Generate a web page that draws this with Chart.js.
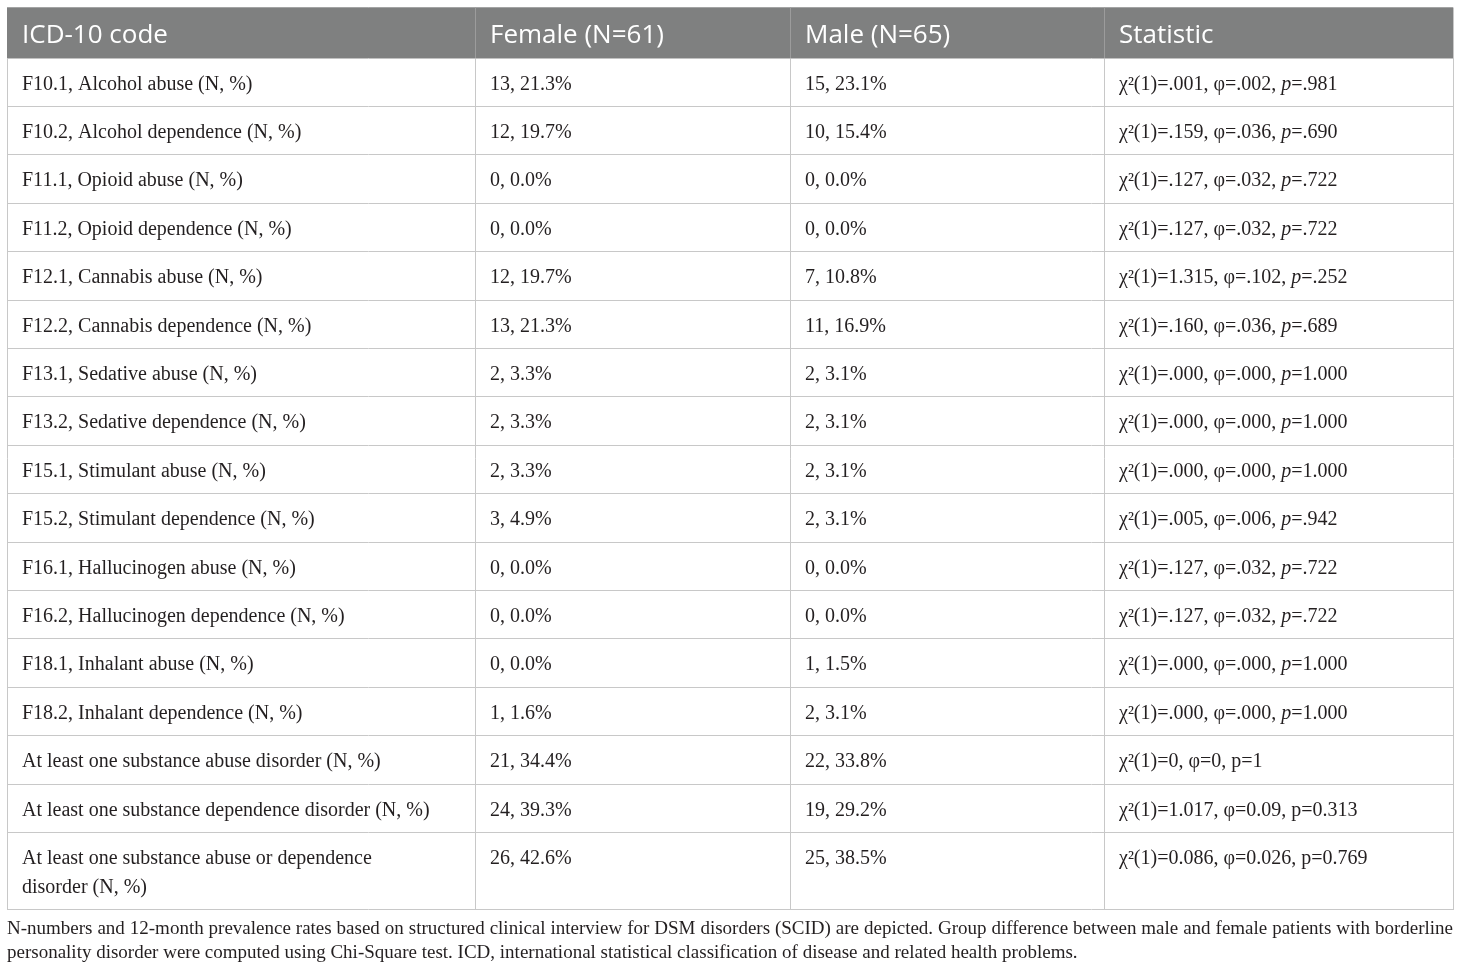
<!DOCTYPE html>
<html>
<head>
<meta charset="utf-8">
<script src="https://cdn.jsdelivr.net/npm/chart.js@4.4.1/dist/chart.umd.min.js"></script>
<style>
  html, body { margin: 0; padding: 0; background: #ffffff; }
  #wrap { width: 1460px; height: 970px; position: relative; }
</style>
</head>
<body>
<div id="wrap"><canvas id="substanceTable"></canvas></div>
<script>
// Table content
const headers = ['ICD-10 code', 'Female (N=61)', 'Male (N=65)', 'Statistic'];

const rowCodes = [
  'F10.1, Alcohol abuse (N, %)',
  'F10.2, Alcohol dependence (N, %)',
  'F11.1, Opioid abuse (N, %)',
  'F11.2, Opioid dependence (N, %)',
  'F12.1, Cannabis abuse (N, %)',
  'F12.2, Cannabis dependence (N, %)',
  'F13.1, Sedative abuse (N, %)',
  'F13.2, Sedative dependence (N, %)',
  'F15.1, Stimulant abuse (N, %)',
  'F15.2, Stimulant dependence (N, %)',
  'F16.1, Hallucinogen abuse (N, %)',
  'F16.2, Hallucinogen dependence (N, %)',
  'F18.1, Inhalant abuse (N, %)',
  'F18.2, Inhalant dependence (N, %)',
  'At least one substance abuse disorder (N, %)',
  'At least one substance dependence disorder (N, %)',
  'At least one substance abuse or dependence disorder (N, %)'
];

const femaleN   = [13, 12, 0, 0, 12, 13, 2, 2, 2, 3, 0, 0, 0, 1, 21, 24, 26];
const femalePct = ['21.3', '19.7', '0.0', '0.0', '19.7', '21.3', '3.3', '3.3', '3.3', '4.9', '0.0', '0.0', '0.0', '1.6', '34.4', '39.3', '42.6'];
const maleN     = [15, 10, 0, 0, 7, 11, 2, 2, 2, 2, 0, 0, 1, 2, 22, 19, 25];
const malePct   = ['23.1', '15.4', '0.0', '0.0', '10.8', '16.9', '3.1', '3.1', '3.1', '3.1', '0.0', '0.0', '1.5', '3.1', '33.8', '29.2', '38.5'];

const chiSq  = ['.001', '.159', '.127', '.127', '1.315', '.160', '.000', '.000', '.000', '.005', '.127', '.127', '.000', '.000', '0', '1.017', '0.086'];
const phiVal = ['.002', '.036', '.032', '.032', '.102', '.036', '.000', '.000', '.000', '.006', '.032', '.032', '.000', '.000', '0', '0.09', '0.026'];
const pVal   = ['.981', '.690', '.722', '.722', '.252', '.689', '1.000', '1.000', '1.000', '.942', '.722', '.722', '1.000', '1.000', '1', '0.313', '0.769'];
const pItalic = [true, true, true, true, true, true, true, true, true, true, true, true, true, true, false, false, false];

const noteLines = [
  'N-numbers and 12-month prevalence rates based on structured clinical interview for DSM disorders (SCID) are depicted. Group difference between male and female patients with borderline',
  'personality disorder were computed using Chi-Square test. ICD, international statistical classification of disease and related health problems.'
];

// Layout
const colWidths = [468, 315, 314, 349];
const rowPx = 48.4;          // height of one single-line row
const headerUnits = 1.045;   // header height in row units
const linePx = 29;           // extra height per wrapped line
const cellPad = 15;
const wrapWidth = 414;       // text width allowed in the first column
const serifFont = '"Liberation Serif", "DejaVu Serif", serif';
const sansFont = '"Open Sans", "Noto Sans", sans-serif';
const bodySize = 20;
const noteSize = 19;
const textColor = '#231f20';
const lineColor = '#c8c8c8';
const headerFill = '#7f8080';

// wrap first column text to the column width
const measureCtx = document.createElement('canvas').getContext('2d');
measureCtx.font = bodySize + 'px ' + serifFont;
function wrapText(text, maxW) {
  const words = text.split(' ');
  const lines = [];
  let cur = '';
  words.forEach(w => {
    const test = cur ? cur + ' ' + w : w;
    if (cur && measureCtx.measureText(test).width > maxW) {
      lines.push(cur);
      cur = w;
    } else {
      cur = test;
    }
  });
  if (cur) lines.push(cur);
  return lines;
}
const codeLines = rowCodes.map(t => wrapText(t, wrapWidth));
const rowUnits = codeLines.map(l => 1 + (l.length - 1) * linePx / rowPx);

// boundaries in scale units
const colEdges = [0];
colWidths.forEach(w => colEdges.push(colEdges[colEdges.length - 1] + w));
const rowEdges = [0, headerUnits];
rowUnits.forEach(u => rowEdges.push(rowEdges[rowEdges.length - 1] + u));
const totalUnits = rowEdges[rowEdges.length - 1];

const padTop = 7.5;
const padBottom = 970 - padTop - totalUnits * rowPx;

function drawSegments(ctx, segs, x, y) {
  segs.forEach(s => {
    ctx.font = (s.italic ? 'italic ' : '') + bodySize + 'px ' + serifFont;
    ctx.fillText(s.t, x, y);
    x += ctx.measureText(s.t).width;
  });
}

const tablePlugin = {
  id: 'tableCells',
  afterDraw(chart) {
    const ctx = chart.ctx;
    const xs = chart.scales.x;
    const ys = chart.scales.y;
    const px = v => xs.getPixelForValue(v);
    const py = v => ys.getPixelForValue(v);
    ctx.save();

    // header band
    ctx.fillStyle = headerFill;
    ctx.fillRect(px(0), py(0), px(colEdges[4]) - px(0), py(headerUnits) - py(0));
    ctx.strokeStyle = '#9c9c9c';
    ctx.lineWidth = 1;
    for (let c = 1; c < 4; c++) {
      const x = Math.round(px(colEdges[c])) + 0.5;
      ctx.beginPath();
      ctx.moveTo(x, py(0));
      ctx.lineTo(x, py(headerUnits));
      ctx.stroke();
    }

    ctx.textBaseline = 'alphabetic';
    ctx.textAlign = 'left';
    ctx.fillStyle = '#ffffff';
    ctx.font = '26px ' + sansFont;
    headers.forEach((h, c) => {
      ctx.fillText(h, px(colEdges[c]) + cellPad, py(0) + 35.5);
    });

    // body cells
    ctx.fillStyle = textColor;
    rowCodes.forEach((code, i) => {
      const top = py(rowEdges[i + 1]);
      const base = top + 31.5;
      ctx.font = bodySize + 'px ' + serifFont;
      codeLines[i].forEach((ln, k) => {
        ctx.fillText(ln, px(colEdges[0]) + cellPad, base + k * linePx);
      });
      ctx.fillText(femaleN[i] + ', ' + femalePct[i] + '%', px(colEdges[1]) + cellPad, base);
      ctx.fillText(maleN[i] + ', ' + malePct[i] + '%', px(colEdges[2]) + cellPad, base);
      drawSegments(ctx, [
        { t: 'χ²(1)=' + chiSq[i] + ', φ=' + phiVal[i] + ', ' },
        { t: 'p', italic: pItalic[i] },
        { t: '=' + pVal[i] }
      ], px(colEdges[3]) + cellPad, base);
    });

    // table note below the frame
    const left = px(0);
    const right = px(colEdges[4]);
    const bottom = py(totalUnits);
    ctx.font = noteSize + 'px ' + serifFont;
    noteLines.forEach((ln, k) => {
      const y = bottom + 24 + k * 24;
      if (k < noteLines.length - 1) {
        const words = ln.split(' ');
        const wordsW = words.reduce((s, w) => s + ctx.measureText(w).width, 0);
        const gap = (right - left - wordsW) / (words.length - 1);
        let x = left;
        words.forEach(w => {
          ctx.fillText(w, x, y);
          x += ctx.measureText(w).width + gap;
        });
      } else {
        ctx.fillText(ln, left, y);
      }
    });
    ctx.restore();
  }
};

const gridAxis = (edges) => ({
  type: 'linear',
  display: true,
  offset: false,
  min: edges[0],
  max: edges[edges.length - 1],
  afterBuildTicks: scale => { scale.ticks = edges.map(v => ({ value: v })); },
  grid: { display: true, offset: false, color: lineColor, lineWidth: 1, drawTicks: false },
  border: { display: false },
  ticks: { display: false }
});

const yAxis = gridAxis(rowEdges);
yAxis.reverse = true;

new Chart(document.getElementById('substanceTable').getContext('2d'), {
  type: 'scatter',
  data: { datasets: [] },
  options: {
    responsive: true,
    maintainAspectRatio: false,
    animation: false,
    layout: { padding: { left: 7, right: 7, top: padTop, bottom: padBottom } },
    scales: { x: gridAxis(colEdges), y: yAxis },
    plugins: { legend: { display: false }, tooltip: { enabled: false } }
  },
  plugins: [tablePlugin]
});
</script>
</body>
</html>
